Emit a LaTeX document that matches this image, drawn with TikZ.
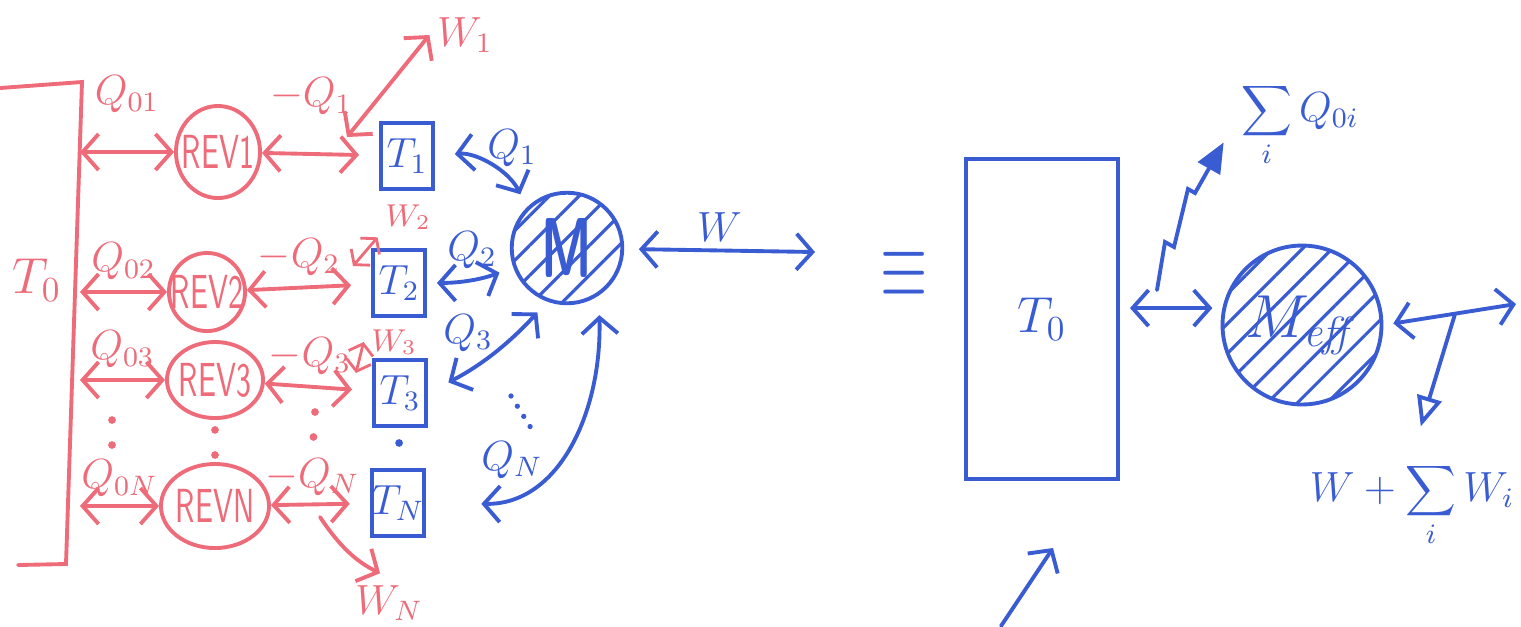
\documentclass[tikz,border=0pt]{standalone}
\usetikzlibrary{arrows.meta,patterns.meta,shapes.geometric}
\definecolor{penred}{RGB}{238,108,122}
\definecolor{penblue}{RGB}{58,92,210}
\tikzset{
  redpen/.style={draw=penred, line width=1.1pt},
  bluepen/.style={draw=penblue, line width=1.1pt},
  redlab/.style={text=penred, font=\large, inner sep=2pt},
  bluelab/.style={text=penblue, font=\large, inner sep=2pt},
  rev/.style={ellipse, redpen, text=penred, font=\sffamily\footnotesize, inner sep=1pt},
  bath/.style={rectangle, bluepen, text=penblue, font=\large, minimum width=0.52cm, minimum height=0.66cm, inner sep=0pt},
  hatched/.style={circle, bluepen, text=penblue, pattern={Lines[angle=45,distance=6pt,line width=0.9pt]}, pattern color=penblue},
  dots/.style={dash pattern=on 0pt off 2.5mm, line cap=round, line width=2.2pt},
  small tips/.style={>={Straight Barb[length=1mm,width=2.5mm]}, line width=0.8pt},
}
\begin{document}
\begin{tikzpicture}[x=0.01cm, y=-0.01cm, >={Straight Barb[length=1.6mm,width=3.6mm]}, line cap=round]
\useasboundingbox (0,0) rectangle (1521,626);

% Reservoir at T_0
\draw[redpen] (0,88) -- (82,82) -- (66,564) -- (18,565);
\node[redlab, font=\Large] (t0lab) at (37,280) {$T_0$};

% Reversible engines and baths T_i
\foreach \i/\rx/\ry/\rw/\rh/\tx/\ty/\ls in {1/218/152/0.84/0.92/407/156/3mm, 2/207/292/0.76/0.78/399/283/0.3mm, 3/215/380/0.96/0.76/400/393/0.3mm, N/215/506/1.08/0.84/398/503/0mm} {
  \node[rev, minimum width=\rw cm, minimum height=\rh cm] (rev\i) at (\rx,\ry) {\makebox[0pt]{\scalebox{1}[1.7]{REV\i}}};
  \node[bath] (t\i) at (\tx,\ty) {$T_\i$};
  \coordinate (b\i) at (80,\ry);
  \draw[redpen,<->] (b\i) -- (rev\i) node[midway,above=\ls,redlab] {$Q_{0\i}$};
  \draw[redpen,<->,shorten >=2mm] (rev\i) -- (t\i) node[pos=0.42,above=\ls,redlab] {$-Q_\i$};
}

% dots between row 3 and row N
\coordinate (d1a) at (112,420); \coordinate (d1b) at (112,462);
\coordinate (d3a) at (315,412); \coordinate (d3b) at (312,460);
\draw[redpen, dots] (d1a) -- (d1b);
\draw[redpen, dots, shorten <=1mm] (rev3) -- (revN);
\draw[redpen, dots] (d3a) -- (d3b);
\draw[bluepen, dots, shorten <=1.5mm, shorten >=1mm] (t3) -- (tN);

% Work of the reversible engines
\node[redlab] (w1) at (465,35) {$W_1$};
\coordinate (w1foot) at (347,137);
\draw[redpen,<->] (w1foot) -- (w1.west);
\node[redlab, font=\small] (w2) at (408,217) {$W_2$};
\coordinate (w2foot) at (353,266);
\draw[redpen, small tips, <->] (w2foot) -- (w2.south west);
\node[redlab, font=\small] (w3) at (394,342) {$W_3$};
\coordinate (w3foot) at (356,373);
\draw[redpen, small tips, <->] (w3foot) -- (w3.west);
\node[redlab] (wN) at (389,603) {$W_N$};
\coordinate (wNfoot) at (320,517);
\draw[redpen,->,shorten >=1mm] (wNfoot) to[bend right=15] (wN.north);

% Engine M fed by the baths
\node[hatched, minimum size=1.0cm, font=\sffamily\bfseries\LARGE] (m) at (567,248) {\scalebox{0.85}[1.4]{M}};
\draw[bluepen,<->,shorten <=2mm,shorten >=1.5mm] (t1.east) to[bend left=35] (m.135);
\node[bluelab] (q1) at (512,148) {$Q_1$};
\draw[bluepen,<->,shorten <=1mm,shorten >=1.5mm] (t2.east) to[bend right=10] (m.200);
\node[bluelab] (q2) at (472,250) {$Q_2$};
\draw[bluepen,<->,shorten <=2.3mm,shorten >=1.5mm] (t3.east) to[bend right=10] (m.250);
\node[bluelab] (q3) at (468,333) {$Q_3$};
\draw[bluepen,<->,shorten <=5.5mm,shorten >=2mm] (tN.east) .. controls (560,505) and (602,410) .. (m.-56);
\node[bluelab] (qN) at (512,460) {$Q_N$};
\coordinate (d4a) at (511,396); \coordinate (d4b) at (531,428);
\draw[bluepen, dots, line width=1.5pt, dash pattern=on 0pt off 1.2mm] (d4a) -- (d4b);
\coordinate (wend) at (815,252);
\draw[bluepen,<->,shorten <=1.5mm] (m) -- (wend) node[midway,above,bluelab] {$W$};

% Equivalent system
\node[bluelab, font=\LARGE] (eq) at (904,275) {\scalebox{1}[1.6]{$\equiv$}};
\node[bluepen, text=penblue, font=\Large, minimum width=1.52cm, minimum height=3.2cm] (tbig) at (1042,319) {$T_0$};
\node[hatched, minimum size=1.38cm, font=\LARGE] (meff) at (1302,325) {$M_{\mathit{eff}}$};
\draw[bluepen,<->,shorten <=1mm,shorten >=1mm] (tbig.east |- meff.168) -- (meff.168);
\coordinate (zz) at (1157,290);
\node[bluelab] (sumq) at (1300,125) {$\displaystyle\sum_i Q_{0i}$};
\draw[bluepen,-{Triangle[length=3mm,width=2.5mm]},shorten >=2mm] (zz) -- ++(8,-48) -- ++(9,5) -- ++(14,-58) -- ++(7,4) -- (sumq.west);
\coordinate (wout) at (1516,304);
\draw[bluepen,<->,shorten <=1mm] (meff.east) -- (wout);
\coordinate (wtap) at (1455,314);
\node[bluelab] (wsum) at (1412,505) {$W + \displaystyle\sum_i W_i$};
\draw[bluepen,-{Triangle[open,length=3mm,width=2.5mm]},shorten >=3mm] (wtap) -- (wsum.north);
\coordinate (lowstart) at (1001,626); \coordinate (lowtip) at (1053,548);
\draw[bluepen,->] (lowstart) -- (lowtip);
\end{tikzpicture}
\end{document}
